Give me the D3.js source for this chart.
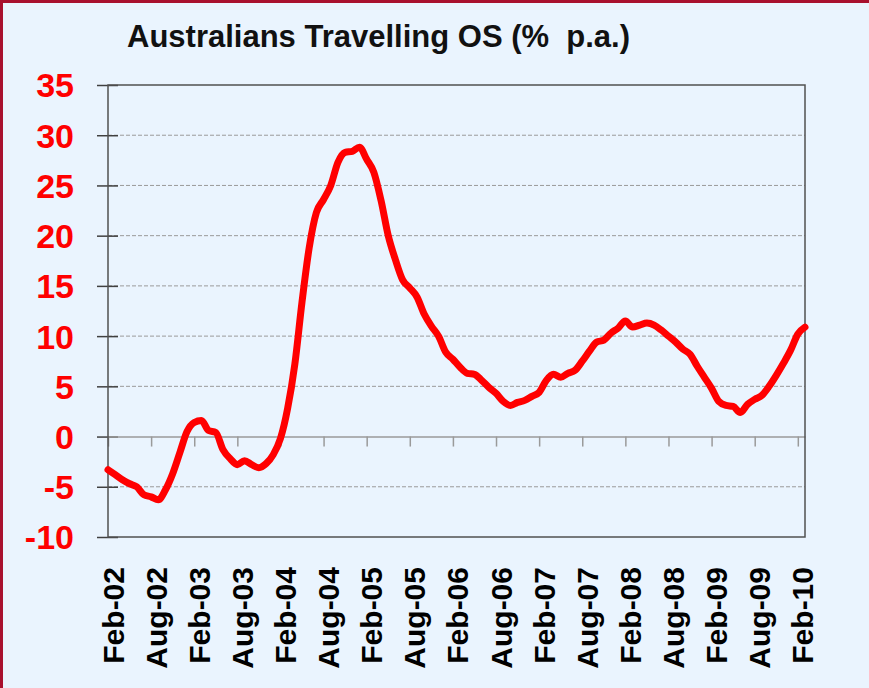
<!DOCTYPE html>
<html>
<head>
<meta charset="utf-8">
<script src="https://cdn.jsdelivr.net/npm/d3@7"></script>
<style>
  html, body { margin: 0; padding: 0; background: #EAF4FE; }
  svg { display: block; }
  .title { font-family: "Liberation Sans", Arial, sans-serif; white-space: pre; }
  .tick text { font-family: "Liberation Sans", Arial, sans-serif; }
</style>
</head>
<body>
<script>
// Australians travelling overseas, annual % change, monthly from Feb-02
const chartTitle = "Australians Travelling OS (%  p.a.)";

// one tick label every 6 months, starting at the first month
const xTickLabels = [
    "Feb-02", "Aug-02", "Feb-03", "Aug-03", "Feb-04", "Aug-04",
    "Feb-05", "Aug-05", "Feb-06", "Aug-06", "Feb-07", "Aug-07",
    "Feb-08", "Aug-08", "Feb-09", "Aug-09", "Feb-10"
];

const yTicks = [-10, -5, 0, 5, 10, 15, 20, 25, 30, 35];

// values, one per month (Feb-02 .. Mar-10)
const travelGrowth = [
    -3.3, -3.8, -4.3, -4.7, -5.0, -5.8, -6.0, -6.3, -5.3, -3.7, -1.6, 0.5,
    1.4, 1.6, 0.6, 0.4, -1.3, -2.2, -2.8, -2.4, -2.8, -3.1, -2.7, -1.8,
    -0.2, 2.8, 7.2, 13.4, 18.8, 22.3, 23.6, 25.0, 27.3, 28.3, 28.4, 28.8,
    27.6, 26.3, 23.5, 20.0, 17.6, 15.6, 14.8, 13.9, 12.2, 11.0, 10.0, 8.4,
    7.7, 6.9, 6.3, 6.2, 5.6, 4.9, 4.3, 3.5, 3.1, 3.4, 3.6, 4.0,
    4.4, 5.6, 6.2, 5.9, 6.3, 6.6, 7.5, 8.5, 9.4, 9.6, 10.3, 10.8,
    11.5, 10.9, 11.1, 11.3, 11.1, 10.6, 10.0, 9.4, 8.7, 8.2, 7.0, 5.9,
    4.8, 3.5, 3.1, 3.0, 2.4, 3.2, 3.7, 4.1, 5.0, 6.1, 7.3, 8.6,
    10.2, 10.9
];

const width = 869, height = 688;
const margin = {top: 85, right: 64, bottom: 151, left: 108};

const svg = d3.select("body").append("svg")
    .attr("width", width)
    .attr("height", height);

// background + the dark red frame (only top/left are visible)
svg.append("rect")
    .attr("width", width).attr("height", height)
    .attr("fill", "#EAF4FE");
svg.append("path")
    .attr("d", "M1.5," + height + "V1.5H" + width)
    .attr("fill", "none")
    .attr("stroke", "#A8102E")
    .attr("stroke-width", 3);

svg.append("text")
    .attr("class", "title")
    .attr("x", 127)
    .attr("y", 47)
    .attr("font-size", 31)
    .attr("font-weight", "bold")
    .attr("fill", "#111")
    .text(chartTitle);

const x = d3.scaleLinear()
    .domain([0, travelGrowth.length - 1])
    .range([margin.left, width - margin.right]);

const y = d3.scaleLinear()
    .domain([-10, 35])
    .range([height - margin.bottom, margin.top]);

// dashed grid lines
svg.append("g")
    .selectAll("line")
    .data(yTicks.filter(d => d !== 0 && d !== 35 && d !== -10))
    .join("line")
    .attr("x1", margin.left).attr("x2", width - margin.right)
    .attr("y1", d => y(d)).attr("y2", d => y(d))
    .attr("stroke", "#9A9A9A")
    .attr("stroke-width", 1)
    .attr("stroke-dasharray", "4,2");

// y axis: ticks crossing the axis, big red labels (plain hyphen for minus)
const yAxis = d3.axisLeft(y)
    .tickValues(yTicks)
    .tickSizeInner(11)
    .tickSizeOuter(0)
    .tickPadding(23)
    .tickFormat(d => String(d));

const yG = svg.append("g")
    .attr("transform", "translate(" + margin.left + ",0)")
    .call(yAxis);
yG.select(".domain").remove();
yG.selectAll(".tick line")
    .attr("x2", -11).attr("x1", 10)
    .attr("stroke", "#404040")
    .attr("stroke-width", 1.5);
yG.selectAll(".tick text")
    .attr("fill", "#FF0000")
    .attr("font-size", 34)
    .attr("font-weight", "bold")
    .attr("dy", "0.35em");

// zero line with the month ticks hanging below it
const xTickIdx = xTickLabels.map((d, i) => i * 6);
const xAxis = d3.axisBottom(x)
    .tickValues(xTickIdx)
    .tickSizeInner(10)
    .tickSizeOuter(0)
    .tickFormat("");

const xG = svg.append("g")
    .attr("transform", "translate(0," + y(0) + ")")
    .call(xAxis);
xG.select(".domain")
    .attr("stroke", "#9A9A9A")
    .attr("stroke-width", 1.5);
xG.selectAll(".tick line")
    .attr("stroke", "#9A9A9A")
    .attr("stroke-width", 1.5);

// plot frame
svg.append("rect")
    .attr("x", margin.left)
    .attr("y", margin.top)
    .attr("width", width - margin.right - margin.left)
    .attr("height", height - margin.bottom - margin.top)
    .attr("fill", "none")
    .attr("stroke", "#505050")
    .attr("stroke-width", 1.5);

// rotated month labels below the plot
svg.append("g")
    .selectAll("text")
    .data(xTickLabels)
    .join("text")
    .attr("transform", (d, i) =>
        "translate(" + (x(i * 6) + 5) + "," + (height - margin.bottom + 30) + ") rotate(-90)")
    .attr("text-anchor", "end")
    .attr("dy", "0.35em")
    .attr("font-family", "'Liberation Sans', Arial, sans-serif")
    .attr("font-size", 30)
    .attr("font-weight", "bold")
    .attr("fill", "#000")
    .text(d => d);

// the series
let line = d3.line()
    .x((d, i) => x(i))
    .y(d => y(d))
    .curve(d3.curveMonotoneX);

svg.append("path")
    .datum(travelGrowth)
    .attr("d", line)
    .attr("fill", "none")
    .attr("stroke", "#FF0000")
    .attr("stroke-width", 7)
    .attr("stroke-linejoin", "round")
    .attr("stroke-linecap", "round");
</script>
</body>
</html>
